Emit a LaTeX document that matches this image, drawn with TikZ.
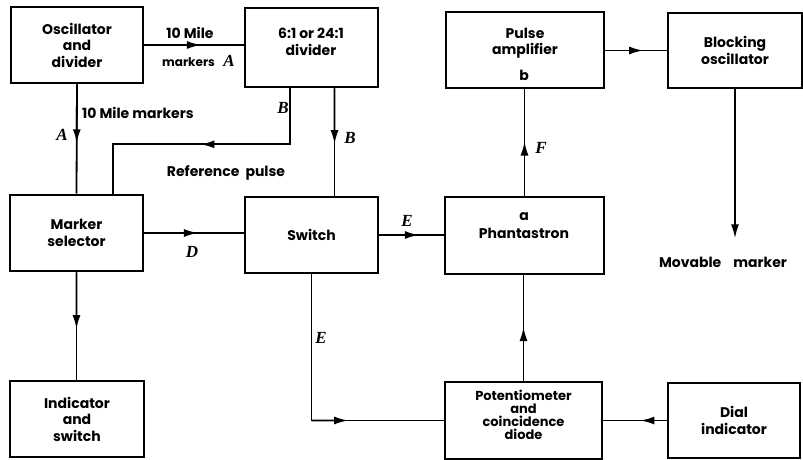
\documentclass[tikz,border=0pt]{standalone}
\usepackage{fontspec}
\newfontfamily\pop{Poppins}
\newfontfamily\ser{Liberation Serif}
\usetikzlibrary{arrows.meta,calc}
\begin{document}
\begin{tikzpicture}[x=1pt,y=-1pt,
 every node/.append style={font=\pop\bfseries\fontsize{14}{16.5}\selectfont},
 box/.style={draw,line width=2.6pt,inner sep=0pt,align=center},
 txt/.style={align=center,inner sep=0pt},
 lab/.style={inner sep=0pt,font=\ser\bfseries\itshape\fontsize{17}{17}\selectfont},
 wire/.style={line width=1.8pt},
 arr/.style={wire,-{Latex[length=14pt,width=8pt]},shorten >=-1pt}
]
\useasboundingbox (0,0) rectangle (803,460);
% boxes
\node[box,minimum width=132,minimum height=76] (osc) at (77,45) {Oscillator\\and\\divider};
\node[box,minimum width=133,minimum height=79] (div) at (311.5,47.5) {};
\node[txt] (divT) at (311,42) {6:1 or 24:1\\divider};
\node[box,minimum width=158,minimum height=76] (pamp) at (525,50) {};
\node[txt] (pampT) at (525,43) {Pulse\\amplifier};
\node[txt] (pb) at (524,75) {b};
\node[box,minimum width=134,minimum height=75] (bosc) at (735,50.5) {Blocking\\oscillator};
\node[box,minimum width=133,minimum height=76] (msel) at (76.5,233) {Marker\\selector};
\node[box,minimum width=133,minimum height=76] (sw) at (311.5,235) {Switch};
\node[box,minimum width=159,minimum height=77] (ph) at (524.5,235.5) {};
\node[txt] (pa) at (524,217) {a};
\node[txt] (phT) at (524,233) {Phantastron};
\node[box,minimum width=134,minimum height=76] (ind) at (77,419) {Indicator\\and\\switch};
\node[box,minimum width=157,minimum height=77] (pot) at (523.5,420.5) {};
\node[txt,font=\pop\bfseries\fontsize{13}{13}\selectfont] (potT) at (523.5,415) {Potentiometer\\and\\coincidence\\diode};
\node[box,minimum width=132,minimum height=75] (dial) at (734,420.5) {Dial\\indicator};
% coordinates
\coordinate (d1) at ($(div.south west)!0.34!(div.south east)$);
\coordinate (d2) at ($(div.south west)!0.67!(div.south east)$);
\coordinate (m2) at ($(msel.north west)!0.77!(msel.north east)$);
\coordinate (rc) at ($(d1)+(0,56)$);
\coordinate (mm) at ($(bosc.south)+(0,148)$);
\coordinate (ec) at (sw.south |- pot.west);
% connectors (lines)
\draw[wire] (osc.east) -- (osc.east -| div.west);
\draw[wire] (osc.south) -- (msel.north);
\draw[wire] (d1) -- (rc) -| (m2);
\draw[wire] (d2) -- (d2 |- sw.north);
\draw[wire] (msel.east) -- (msel.east -| sw.west);
\draw[wire] (sw.east) -- (sw.east -| ph.west);
\draw[wire] (msel.south) -- (msel.south |- ind.north);
\draw[wire] (sw.south) -- (ec) -- (pot.west);
\draw[wire] (pot.north) -- (pot.north |- ph.south);
\draw[wire] (ph.north) -- (ph.north |- pamp.south);
\draw[wire] (pamp.east |- bosc.west) -- (bosc.west);
\draw[wire] (dial.west) -- (dial.west -| pot.east);
% arrowheads
\draw[arr] (osc.east) -- ($(osc.east)!0.56!(osc.east -| div.west)$);
\draw[arr] (osc.south) -- ($(osc.south)!0.53!(msel.north)$);
\draw[arr] (rc) -- ($(rc)!0.5!(rc -| m2)$);
\draw[arr] (d2) -- ($(d2)!0.51!(d2 |- sw.north)$);
\draw[arr] (msel.east) -- ($(msel.east)!0.53!(msel.east -| sw.west)$);
\draw[arr] (sw.east) -- ($(sw.east)!0.6!(sw.east -| ph.west)$);
\draw[arr] (msel.south) -- ($(msel.south)!0.52!(msel.south |- ind.north)$);
\draw[arr] (ec) -- ($(ec)!0.27!(pot.west)$);
\draw[arr] (pot.north) -- ($(pot.north)!0.5!(pot.north |- ph.south)$);
\draw[arr] (ph.north) -- ($(ph.north)!0.5!(ph.north |- pamp.south)$);
\draw[arr] (pamp.east |- bosc.west) -- ($(pamp.east |- bosc.west)!0.6!(bosc.west)$);
\draw[arr] (bosc.south) -- (mm);
\draw[arr] (dial.west) -- ($(dial.west)!0.4!(dial.west -| pot.east)$);
% labels
\node[txt] (l1) at (190,33) {10 Mile};
\node[txt,anchor=west,font=\pop\bfseries\fontsize{12}{14}\selectfont] (l2) at (162,62) {markers};
\node[lab] (lA1) at (229,61) {A};
\node[txt,anchor=west] (l3) at (82,113) {10 Mile markers};
\node[lab] (lA2) at (62,135) {A};
\node[lab] (lB1) at (283,108) {B};
\node[lab] (lB2) at (350,138) {B};
\node[txt] (l4) at (226,173) {Reference\hspace{6pt}pulse};
\node[lab] (lD) at (192,252) {D};
\node[lab] (lE1) at (407,221) {E};
\node[lab] (lE2) at (321,338) {E};
\node[lab] (lF) at (541,148) {F};
\node[txt] (l5) at (723,262) {Movable\hspace{12pt}marker};
\end{tikzpicture}
\end{document}
